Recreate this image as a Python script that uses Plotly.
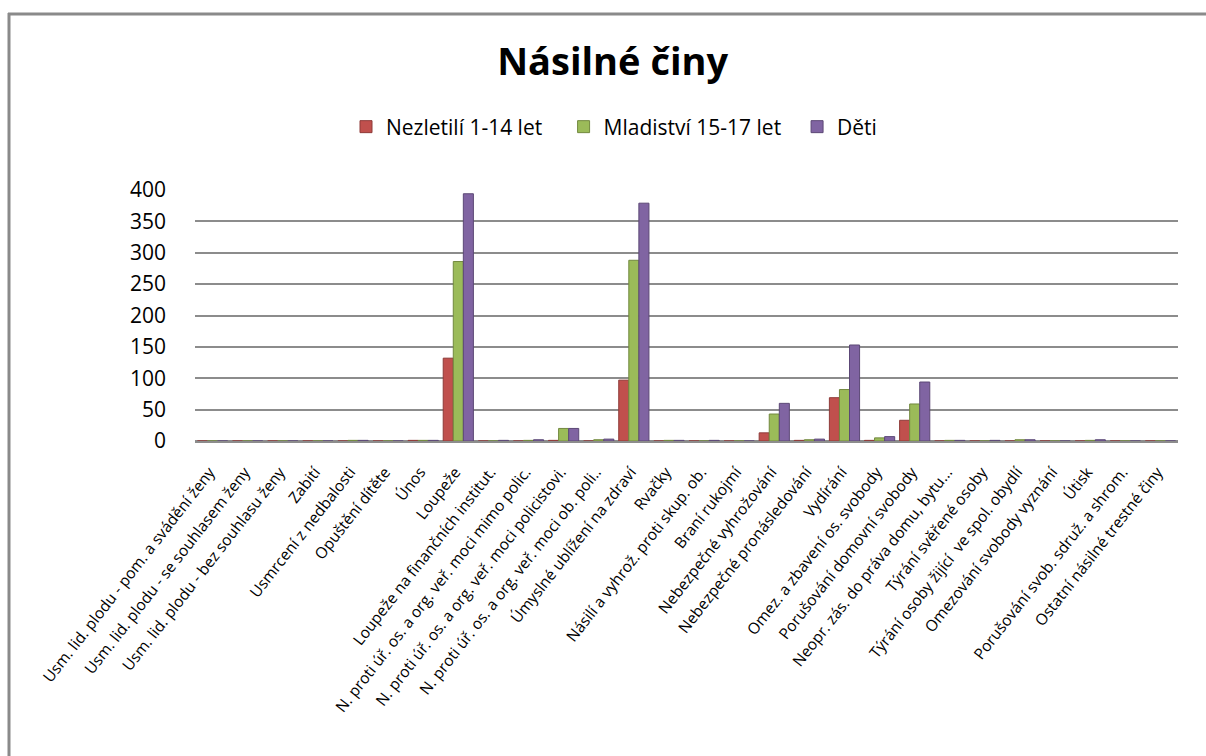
import plotly.graph_objects as go

categories = [
    "Usm. lid. plodu - pom. a svádění ženy",
    "Usm. lid. plodu - se souhlasem ženy",
    "Usm. lid. plodu - bez souhlasu ženy",
    "Zabití",
    "Usmrcení z nedbalosti",
    "Opuštění dítěte",
    "Únos",
    "Loupeže",
    "Loupeže na finančních institut.",
    "N. proti úř. os. a org. veř. moci mimo polic.",
    "N. proti úř. os. a org. veř. moci policistovi.",
    "N. proti úř. os. a org. veř. moci ob. poli..",
    "Úmyslné ublížení na zdraví",
    "Rvačky",
    "Násilí a vyhrož. proti skup. ob.",
    "Braní rukojmí",
    "Nebezpečné vyhrožování",
    "Nebezpečné pronásledování",
    "Vydírání",
    "Omez. a zbavení os. svobody",
    "Porušování domovní svobody",
    "Neopr. zás. do práva domu, bytu...",
    "Týrání svěřené osoby",
    "Týrání osoby žijící  ve spol. obydlí",
    "Omezování svobody vyznání",
    "Útisk",
    "Porušování svob. sdruž. a shrom.",
    "Ostatní násilné trestné činy",
]

nezletili = [0, 0, 0, 0, 0, 0, 1, 132, 0, 0, 1, 0, 97, 0, 0, 0, 13, 1, 69, 1, 33, 0, 0, 0, 0, 0, 0, 0]
mladistvi = [0, 0, 0, 0, 1, 0, 1, 286, 0, 1, 20, 2, 288, 1, 0, 0, 43, 2, 82, 5, 59, 1, 0, 2, 0, 1, 0, 0]
deti      = [0, 0, 0, 0, 1, 0, 1, 394, 1, 2, 20, 3, 379, 1, 1, 0, 60, 3, 153, 7, 94, 1, 1, 2, 0, 2, 0, 0]

series_names = ["Nezletilí 1-14 let", "Mladiství 15-17 let", "Děti"]
legend_pad = ["\u00a0\u00a0\u00a0", "\u00a0\u00a0", ""]
colors = ["#C0504D", "#9BBB59", "#8064A2"]
edge_colors = ["#8E3B39", "#72893F", "#5C4876"]

y_ticks = [0, 50, 100, 150, 200, 250, 300, 350, 400]

fig = go.Figure()
for name, pad, vals, c, ec in zip(series_names, legend_pad, [nezletili, mladistvi, deti], colors, edge_colors):
    fig.add_trace(go.Bar(
        x=categories, y=vals, name=name + pad,
        marker=dict(color=c, line=dict(color=ec, width=1)),
    ))

W, H = 1206, 756
L, R, T, B = 195, 28, 190, 315

def px_to_paper_x(px):
    return (px - L) / (W - L - R)

def px_to_paper_y(py):
    return (H - B - py) / (H - T - B)

fig.update_layout(
    width=W, height=H,
    margin=dict(l=L, r=R, t=T, b=B),
    paper_bgcolor="white", plot_bgcolor="white",
    barmode="group", bargap=0.14, bargroupgap=0,
    font=dict(family="Open Sans", color="#000000"),
    title=dict(text="<b>Násilné činy</b>", x=0.508, xanchor="center",
               y=1 - 62 / H, yanchor="middle",
               font=dict(family="Open Sans", size=38, color="#000000")),
    legend=dict(orientation="h", x=px_to_paper_x(614), xanchor="center",
                y=px_to_paper_y(127), yanchor="middle",
                font=dict(family="Open Sans", size=21, color="#000000"),
                itemwidth=30, traceorder="normal"),
    xaxis=dict(tickangle=-52, tickfont=dict(family="Open Sans", size=15.5, color="#000000"),
               showgrid=False, showline=False, ticks="",
               ticklabelstandoff=18, ticklabelshift=-3),
    yaxis=dict(range=[0, 400], tickvals=y_ticks, ticktext=[str(v) for v in y_ticks],
               tickfont=dict(family="Open Sans", size=21, color="#000000"),
               showgrid=True, gridcolor="#8C8C8C", gridwidth=2,
               zeroline=True, zerolinecolor="#8C8C8C", zerolinewidth=3,
               ticks="", ticklabelstandoff=28, showline=False),
    shapes=[
        dict(type="line", xref="paper", yref="paper",
             x0=px_to_paper_x(9), x1=px_to_paper_x(9),
             y0=px_to_paper_y(13), y1=px_to_paper_y(760),
             line=dict(color="#8A8A8A", width=3)),
        dict(type="line", xref="paper", yref="paper",
             x0=px_to_paper_x(8), x1=px_to_paper_x(1210),
             y0=px_to_paper_y(14), y1=px_to_paper_y(14),
             line=dict(color="#8A8A8A", width=3)),
    ],
)

fig.write_html("out.html", config={"displayModeBar": False},
               post_script="document.body.style.margin='0';document.body.style.overflow='hidden';")
